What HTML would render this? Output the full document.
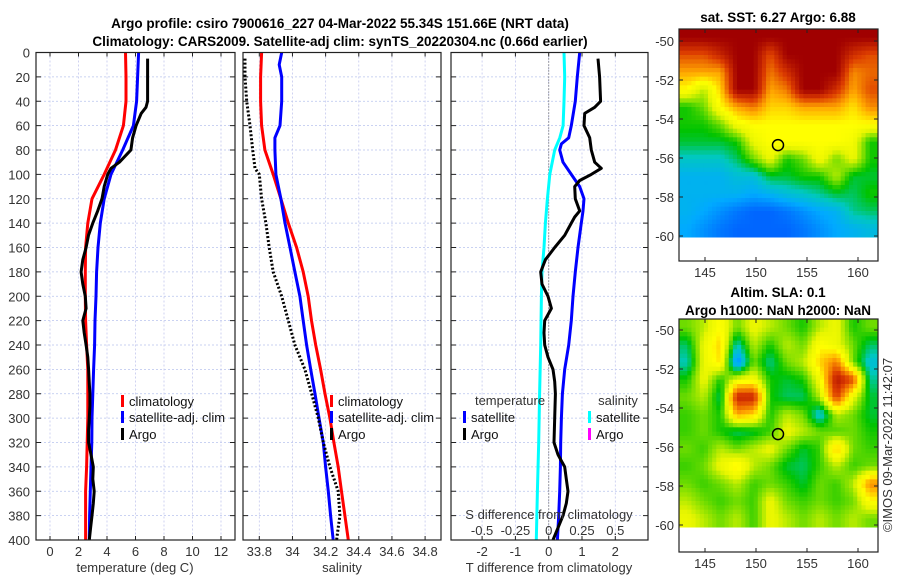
<!DOCTYPE html>
<html><head><meta charset="utf-8"><style>
body{margin:0;background:#fff;width:900px;height:580px;overflow:hidden}
svg{font-family:"Liberation Sans","DejaVu Sans",sans-serif}
.t{font-size:13px;fill:#333}
.b{font-size:13.5px;font-weight:bold;fill:#000}
</style></head><body>
<svg id="c" width="900" height="580" xmlns="http://www.w3.org/2000/svg">
<text class="b" x="340" y="28" text-anchor="middle">Argo profile: csiro 7900616_227 04-Mar-2022 55.34S 151.66E (NRT data)</text>
<text class="b" x="340" y="46" text-anchor="middle">Climatology: CARS2009. Satellite-adj clim: synTS_20220304.nc (0.66d earlier)</text>
<text class="b" x="778" y="22" text-anchor="middle">sat. SST: 6.27 Argo: 6.88</text>
<text class="b" x="778" y="297" text-anchor="middle">Altim. SLA: 0.1</text>
<text class="b" x="778" y="315" text-anchor="middle">Argo h1000: NaN h2000: NaN</text>
<text class="t" x="0" y="0" transform="translate(892,445) rotate(-90)" text-anchor="middle">©IMOS 09-Mar-2022 11:42:07</text>
</svg>
<script>
// ---- data ----
const depthTicks=[0,20,40,60,80,100,120,140,160,180,200,220,240,260,280,300,320,340,360,380,400];
const climDepth=[0,20,40,60,80,100,120,140,160,180,200,220,240,260,280,300,320,340,360,380,400];
const tempClim=[5.3,5.33,5.33,5.15,4.6,3.8,2.95,2.65,2.5,2.48,2.48,2.5,2.57,2.65,2.65,2.65,2.61,2.57,2.5,2.5,2.5];
const tempSat=[6.22,6.15,6.08,5.85,5.1,4.28,3.8,3.53,3.37,3.27,3.23,3.16,3.13,3.06,3.0,2.95,2.93,2.88,2.83,2.78,2.76];
const argoDepth=[5,20,40,45,50,60,70,80,90,95,100,110,120,130,140,150,160,170,180,190,200,210,220,230,240,250,260,270,280,290,300,310,320,330,340,350,360,370,380,390,400];
const tempArgo=[6.85,6.85,6.85,6.74,6.4,6.04,5.8,5.68,4.87,4.28,4.05,3.8,3.65,3.35,3.0,2.7,2.53,2.3,2.18,2.3,2.48,2.53,2.3,2.4,2.53,2.65,2.71,2.75,2.8,2.8,2.76,2.71,2.71,2.88,3.04,3.0,3.1,3.04,2.95,2.85,2.76];
const salDepth=[0,20,40,60,80,100,120,140,160,180,200,220,240,260,280,300,320,340,360,380,400];
const salClim=[33.814,33.808,33.808,33.814,33.834,33.884,33.93,33.975,34.025,34.065,34.095,34.115,34.14,34.17,34.196,34.226,34.25,34.276,34.296,34.316,34.337];
const salSatDepth=[0,10,20,40,60,70,80,100,120,140,160,180,200,220,240,260,280,300,320,340,360,380,400];
const salSat=[33.935,33.92,33.935,33.935,33.925,33.894,33.894,33.9,33.93,33.955,33.985,34.015,34.045,34.065,34.085,34.11,34.136,34.16,34.186,34.2,34.216,34.23,34.246];
const salArgoDepth=[5,20,40,60,80,95,100,120,140,160,180,200,220,240,260,280,300,320,340,360,380,390,400];
const salArgo=[33.714,33.714,33.724,33.744,33.76,33.774,33.8,33.814,33.84,33.86,33.884,33.935,33.975,34.015,34.075,34.116,34.156,34.186,34.226,34.276,34.286,34.276,34.266];
const sdiffDepth=[0,20,40,60,70,80,100,120,140,160,180,200,240,280,320,360,400];
const sdiffSat=[0.115,0.12,0.115,0.108,0.083,0.045,0.008,-0.01,-0.025,-0.035,-0.05,-0.055,-0.06,-0.068,-0.075,-0.085,-0.093];
const tdiffDepth=[0,20,40,60,70,75,80,90,100,110,120,130,140,160,180,200,220,240,260,280,300,320,340,360,380,400];
const tdiffSat=[0.93,0.86,0.8,0.68,0.6,0.38,0.33,0.43,0.68,0.93,1.06,1.03,0.98,0.88,0.8,0.73,0.68,0.6,0.48,0.41,0.38,0.36,0.35,0.33,0.3,0.26];
const tdiffArgoDepth=[5,20,40,45,50,60,70,80,90,95,100,105,110,120,130,135,140,150,160,170,180,190,200,210,220,230,240,250,260,270,280,300,320,330,340,350,360,370,380,390,400];
const tdiffArgo=[1.48,1.53,1.56,1.38,1.08,1.06,1.23,1.28,1.38,1.58,1.28,0.93,0.78,0.8,0.93,0.78,0.68,0.48,0.18,-0.1,-0.24,-0.2,-0.02,0.08,-0.12,-0.14,-0.12,-0.02,0.13,0.18,0.2,0.18,0.16,0.28,0.48,0.53,0.58,0.53,0.43,0.28,0.13];
const tempTicks=[0,2,4,6,8,10,12];
const salTicks=[33.8,34,34.2,34.4,34.6,34.8];
const salTickLabels=["33.8","34","34.2","34.4","34.6","34.8"];
const tdTicks=[-2,-1,0,1,2];
const sdTicks=[-0.5,-0.25,0,0.25,0.5];
const lonTicks=[145,150,155,160];
const latTicks=[-50,-52,-54,-56,-58,-60];
const sstGrid=[
[1,1,1,1,1,1,1,1,1,1,1,1],
[0.85,0.85,0.92,1,1,0.85,1,1,1,1,0.9,0.85],
[0.75,0.75,0.75,1,1,0.8,0.9,1,1,1,0.78,0.82],
[0.65,0.55,0.7,1,1,0.75,0.8,1,1,0.9,0.75,0.85],
[0.45,0.5,0.65,0.75,0.8,0.7,0.7,0.75,0.75,0.75,0.68,0.78],
[0.45,0.45,0.5,0.62,0.65,0.65,0.65,0.65,0.65,0.65,0.65,0.65],
[0.42,0.42,0.42,0.45,0.6,0.65,0.65,0.65,0.65,0.65,0.62,0.45],
[0.35,0.35,0.35,0.4,0.5,0.6,0.45,0.5,0.62,0.5,0.6,0.45],
[0.3,0.3,0.3,0.33,0.33,0.42,0.42,0.45,0.45,0.55,0.42,0.42],
[0.3,0.3,0.3,0.3,0.28,0.3,0.33,0.35,0.38,0.42,0.4,0.45],
[0.3,0.28,0.25,0.22,0.2,0.2,0.22,0.25,0.28,0.3,0.38,0.4],
[0.28,0.25,0.22,0.2,0.2,0.2,0.2,0.22,0.25,0.28,0.3,0.32]];
const slaGrid=[
[0.5,0.55,0.65,0.5,0.6,0.55,0.5,0.45,0.55,0.6,0.45,0.5],
[0.4,0.6,0.7,0.35,0.55,0.45,0.55,0.5,0.65,0.6,0.5,0.4],
[0.36,0.6,0.68,0.22,0.5,0.38,0.5,0.55,0.7,0.8,0.5,0.33],
[0.45,0.6,0.45,0.6,0.62,0.45,0.42,0.45,0.62,0.95,0.85,0.38],
[0.5,0.55,0.4,0.92,0.92,0.45,0.4,0.4,0.55,0.88,0.6,0.42],
[0.47,0.5,0.45,0.75,0.7,0.45,0.55,0.5,0.32,0.55,0.5,0.42],
[0.47,0.5,0.45,0.4,0.42,0.47,0.6,0.55,0.5,0.48,0.5,0.45],
[0.5,0.47,0.55,0.5,0.55,0.6,0.5,0.42,0.47,0.72,0.5,0.47],
[0.47,0.5,0.6,0.68,0.55,0.5,0.42,0.4,0.47,0.55,0.47,0.5],
[0.5,0.47,0.5,0.55,0.47,0.5,0.47,0.42,0.5,0.47,0.55,0.78],
[0.55,0.5,0.47,0.5,0.47,0.6,0.5,0.47,0.5,0.47,0.5,0.65],
[0.6,0.55,0.5,0.55,0.47,0.6,0.55,0.5,0.55,0.5,0.55,0.5]];

// ---- drawing ----
const svg=document.getElementById('c');
const NS='http://www.w3.org/2000/svg';
function mk(tag,attrs,parent){const e=document.createElementNS(NS,tag);for(const k in attrs)e.setAttribute(k,attrs[k]);(parent||svg).appendChild(e);return e;}
const Y0=52.5,Y1=540;
const yD=d=>Y0+(d/400)*(Y1-Y0);
const panels=[
 {x0:36,x1:235,sx:v=>50+v*14.25,name:'temperature-panel'},
 {x0:243,x1:441,sx:v=>259.3+(v-33.8)*165.8,name:'salinity-panel'},
 {x0:451,x1:648,sx:v=>548.7+v*33.3,name:'difference-panel'}];
const grids=[tempTicks,salTicks,tdTicks];
panels.forEach((p,i)=>{
 const g=mk('g',{});
 
 
 p.g=g;
 depthTicks.forEach(d=>{if(d>0&&d<400){const l=mk('line',{x1:p.x0,x2:p.x1,y1:yD(d),y2:yD(d),stroke:'#b8c4ee','stroke-width':0.8,'stroke-dasharray':'2,2'},g);
 }
 mk('line',{x1:p.x0,x2:p.x0+5,y1:yD(d),y2:yD(d),stroke:'#222'},g);mk('line',{x1:p.x1-5,x2:p.x1,y1:yD(d),y2:yD(d),stroke:'#222'},g);});
 grids[i].forEach(v=>{const x=p.sx(v);const l=mk('line',{x1:x,x2:x,y1:Y0,y2:Y1,stroke:'#c4c8ee','stroke-width':0.8,'stroke-dasharray':'2,2'},g);
 
 mk('line',{x1:x,x2:x,y1:Y1-4,y2:Y1,stroke:'#222'},g);mk('line',{x1:x,x2:x,y1:Y0,y2:Y0+4,stroke:'#222'},g);});
});
depthTicks.forEach(d=>{const t=mk('text',{x:30,y:yD(d)+5,class:'t','text-anchor':'end'});t.textContent=d;
});
function xl(x,y,txt,nm){const t=mk('text',{x:x,y:y,class:'t','text-anchor':'middle'});t.textContent=txt;return t;}
tempTicks.forEach(v=>xl(panels[0].sx(v),556,v,'temperature-tick-label'));
salTicks.forEach((v,i)=>xl(panels[1].sx(v),556,salTickLabels[i],'salinity-tick-label'));
tdTicks.forEach(v=>xl(panels[2].sx(v),556,v,'t-diff-tick-label'));
sdTicks.forEach(v=>xl(panels[2].sx(v*4),535,String(v),'s-diff-tick-label'));
xl(135,572,'temperature (deg C)','temperature-axis-title');
xl(342,572,'salinity','salinity-axis-title');
xl(549,572,'T difference from climatology','t-diff-axis-title');
xl(549,519,'S difference from climatology','s-diff-axis-title');
mk('line',{x1:panels[2].sx(0),x2:panels[2].sx(0),y1:Y0,y2:Y1,stroke:'#555','stroke-width':1,'stroke-dasharray':'1,2'},panels[2].g);
function line(p,xs,ds,col,nm,dash,xf){const pts=xs.map((v,i)=>p.sx(xf?xf(v):v).toFixed(1)+','+yD(ds[i]).toFixed(1)).join(' ');
 const a={points:pts,fill:'none',stroke:col,'stroke-width':3,'stroke-linejoin':'round'};if(dash)a['stroke-dasharray']=dash;
 const e=mk('polyline',a,p.g);}
line(panels[0],tempClim,climDepth,'#f00','temp-climatology-line');
line(panels[0],tempSat,climDepth,'#00f','temp-satellite-line');
line(panels[0],tempArgo,argoDepth,'#000','temp-argo-line');
line(panels[1],salClim,salDepth,'#f00','sal-climatology-line');
line(panels[1],salSat,salSatDepth,'#00f','sal-satellite-line');
line(panels[1],salArgo,salArgoDepth,'#000','sal-argo-line','2,2');
line(panels[2],sdiffSat,sdiffDepth,'#0ff','s-diff-satellite-line',null,v=>v*4);
line(panels[2],tdiffSat,tdiffDepth,'#00f','t-diff-satellite-line');
line(panels[2],tdiffArgo,tdiffArgoDepth,'#000','t-diff-argo-line');
panels.forEach(p=>{const r=mk('rect',{x:p.x0,y:Y0,width:p.x1-p.x0,height:Y1-Y0,fill:'none',stroke:'#222','stroke-width':1.2},p.g);
});
function leg(x,y,col,txt,nm){const g=mk('g',{});
 mk('rect',{x:x,y:y-11,width:3,height:12,fill:col},g);const t=mk('text',{x:x+8,y:y,class:'t',style:'fill:#111'},g);t.textContent=txt;}
leg(121,406,'#f00','climatology','legend-climatology');
leg(121,422,'#00f','satellite-adj. clim','legend-satellite-adj');
leg(121,439,'#000','Argo','legend-argo');
leg(330,406,'#f00','climatology','legend-climatology-sal');
leg(330,422,'#00f','satellite-adj. clim','legend-satellite-adj-sal');
leg(330,439,'#000','Argo','legend-argo-sal');
xl(510,405,'temperature','legend-temperature-heading');
xl(618,405,'salinity','legend-salinity-heading');
leg(463,422,'#00f','satellite','legend-t-satellite');
leg(463,439,'#000','Argo','legend-t-argo');
leg(588,422,'#0ff','satellite','legend-s-satellite');
leg(588,439,'#f0f','Argo','legend-s-argo');
// maps
const cstops=[[0,[0,0,150]],[0.15,[0,60,255]],[0.28,[0,170,255]],[0.36,[0,200,190]],[0.44,[0,195,0]],[0.5,[110,220,0]],[0.58,[230,245,0]],[0.65,[255,255,0]],[0.75,[255,165,0]],[0.87,[220,60,0]],[1,[160,0,0]]];
function cmap(v){v=Math.max(0,Math.min(1,v));for(let i=1;i<cstops.length;i++){if(v<=cstops[i][0]){const a=cstops[i-1],b=cstops[i],f=(v-a[0])/(b[0]-a[0]);
 return 'rgb('+a[1].map((c,k)=>Math.round(c+(b[1][k]-c)*f)).join(',')+')';}}return 'rgb(160,0,0)';}
function sample(grid,fr,fc){const R=grid.length,C=grid[0].length;
 fr=Math.max(0,Math.min(R-1,fr));fc=Math.max(0,Math.min(C-1,fc));
 const r0=Math.floor(fr),c0=Math.floor(fc),r1=Math.min(R-1,r0+1),c1=Math.min(C-1,c0+1),a=fr-r0,b=fc-c0;
 return grid[r0][c0]*(1-a)*(1-b)+grid[r0][c1]*(1-a)*b+grid[r1][c0]*a*(1-b)+grid[r1][c1]*a*b;}
function map(top,dataBot,frameBot,grid,nm,lat0y){
 const X0=679,X1=878,SUB=4;const g=mk('g',{});
 const rows=grid.length*SUB,cols=grid[0].length*SUB,cw=(X1-X0)/cols,rh=(dataBot-top)/rows;
 for(let r=0;r<rows;r++)for(let c=0;c<cols;c++){
  const v=sample(grid,(r+0.5)/SUB-0.5,(c+0.5)/SUB-0.5);
  const e=mk('rect',{x:(X0+c*cw).toFixed(2),y:(top+r*rh).toFixed(2),width:(cw+0.5).toFixed(2),height:(rh+0.5).toFixed(2),fill:cmap(v)},g);
  }
 mk('rect',{x:X0,y:top,width:X1-X0,height:frameBot-top,fill:'none',stroke:'#222','stroke-width':1.2},g);
 const lonX=l=>705+(l-145)*10.2, latY=l=>lat0y+(-50-l)*19.5;
 lonTicks.forEach(l=>{const x=lonX(l);mk('line',{x1:x,x2:x,y1:frameBot-4,y2:frameBot,stroke:'#222'},g);mk('line',{x1:x,x2:x,y1:top,y2:top+4,stroke:'#222'},g);
  xl(x,frameBot+16,l,'longitude-tick-label');});
 latTicks.forEach(l=>{const y=latY(l);mk('line',{x1:X1-4,x2:X1,y1:y,y2:y,stroke:'#222'},g);mk('line',{x1:X0,x2:X0+4,y1:y,y2:y,stroke:'#222'},g);
  const t=mk('text',{x:674,y:y+5,class:'t','text-anchor':'end'});t.textContent=l;});
 const c=mk('circle',{cx:778,cy:latY(-55.34),r:5.5,fill:'none',stroke:'#000','stroke-width':1.5},g);
 
}
map(29,237,261,sstGrid,'sst-map',41);
map(319,527,552,slaGrid,'sla-map',330);
</script>
</body></html>
